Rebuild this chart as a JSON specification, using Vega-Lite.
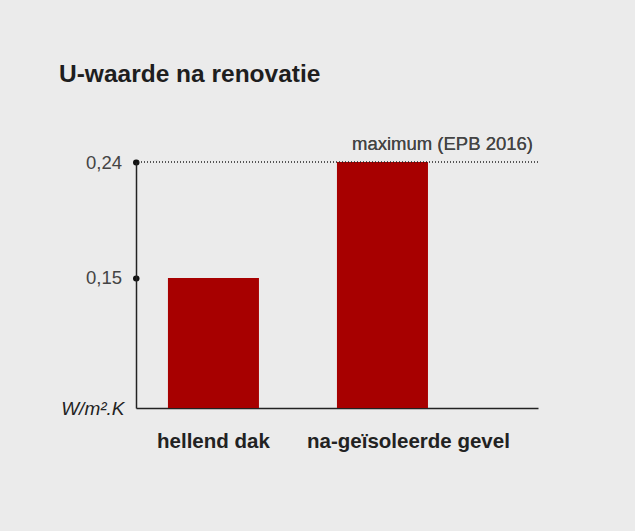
{
  "$schema": "https://vega.github.io/schema/vega-lite/v6.json",
  "width": 402,
  "height": 246,
  "autosize": "none",
  "padding": {"left": 136, "top": 162, "right": 97, "bottom": 123},
  "background": "#ebebeb",
  "title": {
    "text": "U-waarde na renovatie",
    "anchor": "start",
    "frame": "group",
    "orient": "top",
    "baseline": "alphabetic",
    "offset": 29,
    "dx": -77,
    "font": "Liberation Sans",
    "fontSize": 24.5,
    "fontWeight": "bold",
    "color": "#1e1e1e"
  },
  "config": {
    "view": {"stroke": null},
    "font": "Liberation Sans"
  },
  "data": {
    "values": [
      {"element": "hellend dak", "u": 0.15},
      {"element": "na-geïsoleerde gevel", "u": 0.24}
    ]
  },
  "layer": [
    {
      "mark": {"type": "bar", "color": "#a70000"},
      "encoding": {
        "x": {
          "field": "element",
          "type": "nominal",
          "sort": null,
          "scale": {"paddingInner": 0.4615, "paddingOuter": 0.42, "align": 0.225},
          "axis": {
            "title": null,
            "labelAngle": 0,
            "labelFontSize": 20.5,
            "labelFontWeight": "bold",
            "labelColor": "#222222",
            "labelPadding": 23,
            "labelLimit": 400,
            "labelOverlap": false,
            "labelOffset": {"expr": "datum.value == 'na-geïsoleerde gevel' ? 26 : 0"},
            "ticks": false,
            "domainColor": "#222222",
            "domainWidth": 1.5
          }
        },
        "y": {
          "field": "u",
          "type": "quantitative",
          "scale": {"domain": [0.049, 0.24], "zero": false, "nice": false},
          "axis": {
            "values": [0.15, 0.24],
            "format": ".2f",
            "labelExpr": "replace(datum.label, '.', ',')",
            "labelFontSize": 18.5,
            "labelColor": "#444444",
            "labelPadding": 14,
            "grid": false,
            "domainColor": "#222222",
            "domainWidth": 1.5,
            "tickSize": 0.5,
            "tickWidth": 6,
            "tickCap": "round",
            "tickColor": "#111111",
            "title": "W/m².K",
            "titleAngle": 0,
            "titleAlign": "right",
            "titleBaseline": "middle",
            "titleX": -12,
            "titleY": 246,
            "titleFontSize": 19,
            "titleFontStyle": "italic",
            "titleFontWeight": "normal",
            "titleColor": "#222222"
          }
        },
        "y2": {"datum": 0.049}
      }
    },
    {
      "mark": {"type": "rule", "strokeDash": [1, 2], "color": "#222222", "strokeWidth": 1},
      "encoding": {"y": {"datum": 0.24}}
    },
    {
      "mark": {
        "type": "text",
        "text": "maximum (EPB 2016)",
        "align": "right",
        "baseline": "alphabetic",
        "x": {"expr": "width"},
        "dx": -5,
        "dy": -12,
        "fontSize": 18.5,
        "color": "#444444"
      },
      "encoding": {"y": {"datum": 0.24}}
    }
  ]
}
